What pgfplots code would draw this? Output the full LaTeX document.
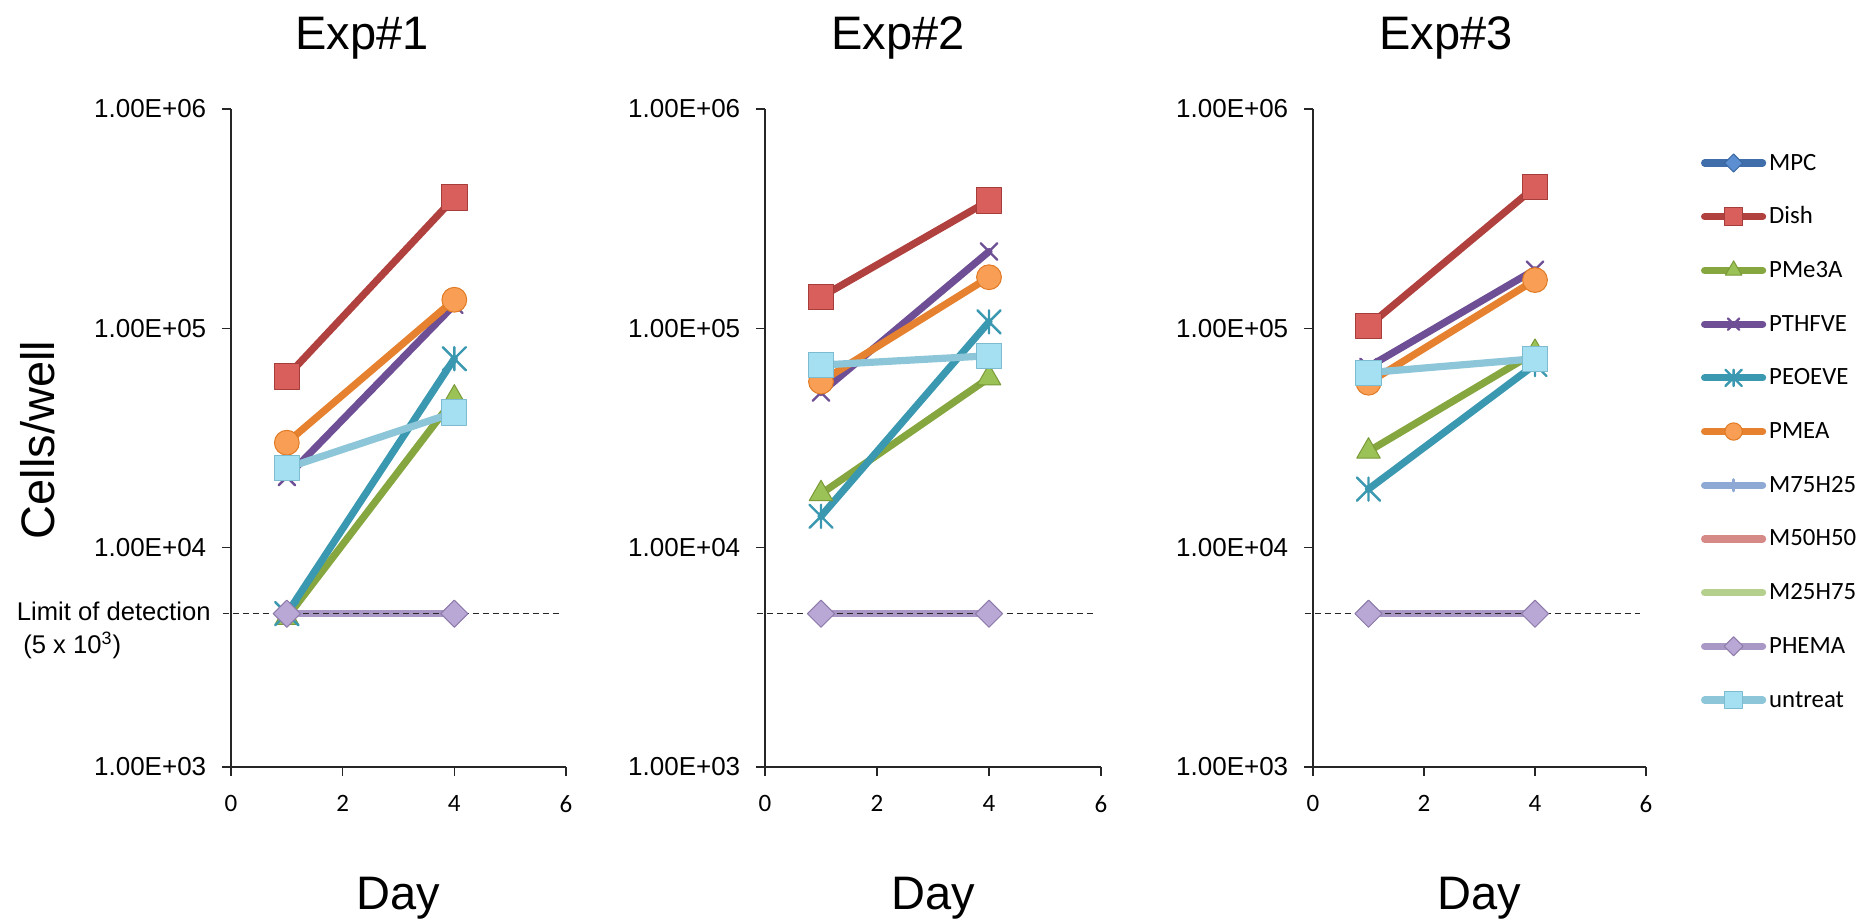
\documentclass[border=0pt]{standalone}
\usepackage{fontspec}
\setmainfont{Liberation Sans}
\newfontfamily\calfont{Carlito}
\usepackage{pgfplots}
\pgfplotsset{compat=1.18}

\definecolor{cMPC}{HTML}{3F6EAA}\definecolor{cMPCf}{HTML}{5B8FD2}\definecolor{cMPCd}{HTML}{3A66A0}
\definecolor{cDish}{HTML}{B0413E}\definecolor{cDishf}{HTML}{D95F5D}\definecolor{cDishd}{HTML}{A53E3B}
\definecolor{cPMe}{HTML}{86A63F}\definecolor{cPMef}{HTML}{9BC256}\definecolor{cPMed}{HTML}{7A9A38}
\definecolor{cPTH}{HTML}{6E4F96}
\definecolor{cPEO}{HTML}{3A98B0}
\definecolor{cPMEA}{HTML}{E5812F}\definecolor{cPMEAf}{HTML}{F89E55}\definecolor{cPMEAd}{HTML}{E07A24}
\definecolor{cM75}{HTML}{8EA9D3}
\definecolor{cM50}{HTML}{D68A88}
\definecolor{cM25}{HTML}{B5D08D}
\definecolor{cPHE}{HTML}{A998C5}\definecolor{cPHEf}{HTML}{B9A8D6}\definecolor{cPHEd}{HTML}{8E7BAA}
\definecolor{cUnt}{HTML}{8CC6D8}\definecolor{cUntf}{HTML}{A5E0F2}\definecolor{cUntd}{HTML}{7DBCD0}

\pgfdeclareplotmark{xstar}{%
  \pgfpathmoveto{\pgfqpoint{-\pgfplotmarksize}{-\pgfplotmarksize}}%
  \pgfpathlineto{\pgfqpoint{\pgfplotmarksize}{\pgfplotmarksize}}%
  \pgfpathmoveto{\pgfqpoint{-\pgfplotmarksize}{\pgfplotmarksize}}%
  \pgfpathlineto{\pgfqpoint{\pgfplotmarksize}{-\pgfplotmarksize}}%
  \pgfpathmoveto{\pgfqpoint{0pt}{-\pgfplotmarksize}}%
  \pgfpathlineto{\pgfqpoint{0pt}{\pgfplotmarksize}}%
  \pgfusepathqstroke}

\pgfplotsset{
  ser/.style={line width=3.6pt, line cap=round, line join=round},
  sMPC/.style={ser, draw=cMPC, mark=square*, mark size=4.6pt, mark options={solid, rotate=45, fill=cMPCf, draw=cMPCd, line width=0.5pt}},
  sDish/.style={ser, draw=cDish, mark=square*, mark size=6.4pt, mark options={solid, fill=cDishf, draw=cDishd, line width=0.5pt}},
  sPMe/.style={ser, draw=cPMe, mark=triangle*, mark size=6.8pt, mark options={solid, fill=cPMef, draw=cPMed, line width=0.5pt}},
  sPTH/.style={ser, draw=cPTH, mark=x, mark size=5.8pt, mark options={solid, draw=cPTH, line width=1.2pt}},
  sPEO/.style={ser, draw=cPEO, mark=xstar, mark size=5.8pt, mark options={solid, draw=cPEO, line width=1.2pt}},
  sPMEA/.style={ser, draw=cPMEA, mark=*, mark size=6.2pt, mark options={solid, fill=cPMEAf, draw=cPMEAd, line width=0.5pt}},
  sM75/.style={ser, draw=cM75, mark=|, mark size=4pt, mark options={solid, draw=cM75, line width=1.5pt}},
  sM50/.style={ser, draw=cM50, mark=none},
  sM25/.style={ser, draw=cM25, mark=none},
  sPHE/.style={ser, draw=cPHE, mark=square*, mark size=4.8pt, mark options={solid, rotate=45, fill=cPHEf, draw=cPHEd, line width=0.5pt}},
  sUnt/.style={ser, draw=cUnt, mark=square*, mark size=6.3pt, mark options={solid, fill=cUntf, draw=cUntd, line width=0.5pt}},
  panel/.style={
    scale only axis, height=329pt, anchor=south west,
    xmin=0, xmax=6, ymin=1000, ymax=1000000,
    axis x line=bottom, axis y line=left,
    axis line style={-, black!85, line width=0.7pt},
    xtick={0,2,4,6}, xticklabels={0,2,4,6},
    ytick={1000,10000,100000,1000000},
    yticklabels={1.00E+03,1.00E+04,1.00E+05,1.00E+06},
    yminorticks=false, xminorticks=false,
    tick align=outside, major tick length=4.5pt,
    tick style={black!85, line width=0.7pt},
    yticklabel style={font=\fontsize{13}{15}\selectfont, inner sep=0pt, anchor=east, xshift=-7.7pt},
    xticklabel style={font=\calfont\fontsize{12.5}{15}\selectfont, inner sep=0pt, anchor=north, yshift=-9.5pt},
    xlabel={Day},
    xlabel style={at={(axis description cs:0.5,0)}, anchor=base, yshift=-71.5pt, font=\fontsize{23.5}{28}\selectfont},
    clip=false,
  },
}

\begin{document}
\begin{tikzpicture}
\path[use as bounding box] (0,0) rectangle (930pt,461.5pt);

% ---------------- Exp#1
\begin{semilogyaxis}[panel, at={(115.5pt,78pt)}, width=167.5pt]
\addplot[sMPC]  coordinates {(1,5000) (4,5000)};
\addplot[sDish] coordinates {(1,60300) (4,394000)};
\addplot[sPMe]  coordinates {(1,4800) (4,48000)};
\addplot[sPTH]  coordinates {(1,21000) (4,128000)};
\addplot[sPEO]  coordinates {(1,5000) (4,72700)};
\addplot[sPMEA] coordinates {(1,30100) (4,135000)};
\addplot[sM75]  coordinates {(1,5000) (4,5000)};
\addplot[sM50]  coordinates {(1,5000) (4,5000)};
\addplot[sM25]  coordinates {(1,5000) (4,5000)};
\addplot[sPHE]  coordinates {(1,5000) (4,5000)};
\addplot[sUnt]  coordinates {(1,23100) (4,41300)};
\addplot[forget plot, black!85, line width=0.7pt, dash pattern=on 3pt off 2pt, mark=none] coordinates {(-0.15,5000) (5.9,5000)};
\end{semilogyaxis}

% ---------------- Exp#2
\begin{semilogyaxis}[panel, at={(382.5pt,78pt)}, width=168pt]
\addplot[sMPC]  coordinates {(1,5000) (4,5000)};
\addplot[sDish] coordinates {(1,139000) (4,382000)};
\addplot[sPMe]  coordinates {(1,17600) (4,59400)};
\addplot[sPTH]  coordinates {(1,51000) (4,224000)};
\addplot[sPEO]  coordinates {(1,13900) (4,107000)};
\addplot[sPMEA] coordinates {(1,57200) (4,171000)};
\addplot[sM75]  coordinates {(1,5000) (4,5000)};
\addplot[sM50]  coordinates {(1,5000) (4,5000)};
\addplot[sM25]  coordinates {(1,5000) (4,5000)};
\addplot[sPHE]  coordinates {(1,5000) (4,5000)};
\addplot[sUnt]  coordinates {(1,68000) (4,75000)};
\addplot[forget plot, black!85, line width=0.7pt, dash pattern=on 3pt off 2pt, mark=none] coordinates {(-0.15,5000) (5.9,5000)};
\end{semilogyaxis}

% ---------------- Exp#3
\begin{semilogyaxis}[panel, at={(656.5pt,78pt)}, width=166.5pt,
  legend cell align=left,
  legend style={at={(1.1652,0.9331)}, anchor=north west, draw=none, fill=none,
    inner sep=0pt, outer sep=0pt, row sep=16.85pt, column sep=1.5pt,
    font=\calfont\fontsize{12.4}{14}\selectfont,
    nodes={inner sep=0pt, text height=8.5pt, text depth=1.5pt}},
  legend image code/.code={\draw[mark repeat=2, mark phase=2, every mark/.append style={scale=0.7}] plot coordinates {(0pt,0pt) (14.5pt,0pt) (29pt,0pt)};},
  legend entries={MPC,Dish,PMe3A,PTHFVE,PEOEVE,PMEA,M75H25,M50H50,M25H75,PHEMA,untreat}]
\addplot[sMPC]  coordinates {(1,5000) (4,5000)};
\addplot[sDish] coordinates {(1,102500) (4,441000)};
\addplot[sPMe]  coordinates {(1,27500) (4,77600)};
\addplot[sPTH]  coordinates {(1,66700) (4,185000)};
\addplot[sPEO]  coordinates {(1,18500) (4,68400)};
\addplot[sPMEA] coordinates {(1,56500) (4,166000)};
\addplot[sM75]  coordinates {(1,5000) (4,5000)};
\addplot[sM50]  coordinates {(1,5000) (4,5000)};
\addplot[sM25]  coordinates {(1,5000) (4,5000)};
\addplot[sPHE]  coordinates {(1,5000) (4,5000)};
\addplot[sUnt]  coordinates {(1,62800) (4,72700)};
\addplot[forget plot, black!85, line width=0.7pt, dash pattern=on 3pt off 2pt, mark=none] coordinates {(-0.15,5000) (5.9,5000)};
\end{semilogyaxis}

% titles and labels
\node[anchor=base, inner sep=0pt, font=\fontsize{23.5}{28}\selectfont] at (181pt,436.5pt) {Exp\#1};
\node[anchor=base, inner sep=0pt, font=\fontsize{23.5}{28}\selectfont] at (449pt,436.5pt) {Exp\#2};
\node[anchor=base, inner sep=0pt, font=\fontsize{23.5}{28}\selectfont] at (723pt,436.5pt) {Exp\#3};
\node[anchor=base, inner sep=0pt, rotate=90, font=\fontsize{23.5}{28}\selectfont] at (27pt,241.5pt) {Cells/well};
\node[anchor=base west, inner sep=0pt, font=\fontsize{12.8}{14}\selectfont] at (8.3pt,151.2pt) {Limit of detection};
\node[anchor=base west, inner sep=0pt, font=\fontsize{12.8}{14}\selectfont] at (11.5pt,135pt) {(5 x 10\textsuperscript{3})};
\end{tikzpicture}
\end{document}
